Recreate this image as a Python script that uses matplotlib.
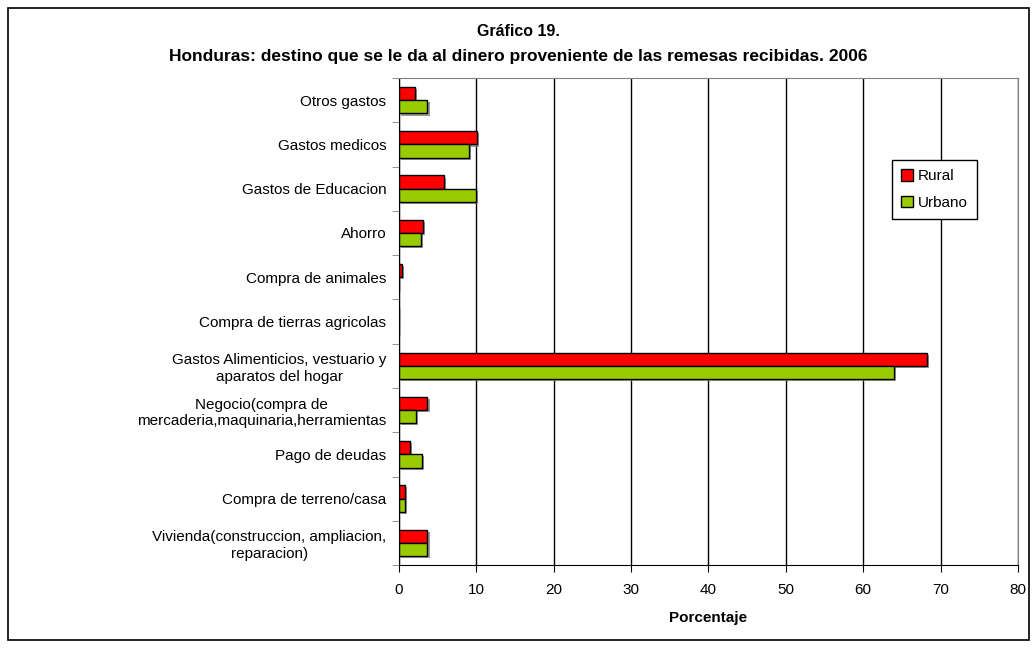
import numpy as np
import matplotlib.pyplot as plt
import matplotlib.patheffects as pe

plt.rcParams['font.family'] = ['Liberation Sans', 'DejaVu Sans']

categorias = [
    "Otros gastos",
    "Gastos medicos",
    "Gastos de Educacion",
    "Ahorro",
    "Compra de animales",
    "Compra de tierras agricolas",
    "Gastos Alimenticios, vestuario y\naparatos del hogar",
    "Negocio(compra de\nmercaderia,maquinaria,herramientas",
    "Pago de deudas",
    "Compra de terreno/casa",
    "Vivienda(construccion, ampliacion,\nreparacion)",
]
rural = [2.1, 10.1, 5.8, 3.1, 0.45, 0, 68.2, 3.7, 1.4, 0.8, 3.7]
urbano = [3.7, 9.1, 10.0, 2.8, 0, 0, 64.0, 2.2, 3.0, 0.8, 3.7]
x_ticks = [0, 10, 20, 30, 40, 50, 60, 70, 80]

fig = plt.figure(figsize=(10.36, 6.48), dpi=100)
ax = fig.add_axes([0.385, 0.128, 0.5976, 0.7516])

# outer frame of the chart
fig.patches.append(plt.Rectangle((0.008, 0.012), 0.985, 0.975, transform=fig.transFigure,
                                 fill=False, edgecolor='black', linewidth=1.2))

y = np.arange(len(categorias))
h = 0.3
sombra = [pe.SimplePatchShadow(offset=(1.5, -1.5), shadow_rgbFace='#808080', alpha=0.8), pe.Normal()]
b1 = ax.barh(y - h / 2, rural, height=h, color='#FF0000', edgecolor='black', linewidth=1, label='Rural')
b2 = ax.barh(y + h / 2, urbano, height=h, color='#99CC00', edgecolor='black', linewidth=1, label='Urbano')
for b in list(b1) + list(b2):
    if b.get_width() > 0:
        b.set_path_effects(sombra)

ax.set_xlim(0, 80)
ax.set_ylim(len(categorias) - 0.5, -0.5)
ax.set_xticks(x_ticks)
ax.set_xticklabels([str(v) for v in x_ticks], fontsize=11)
ax.tick_params(axis='x', direction='out', length=5, pad=8)
ax.set_yticks(y)
ax.set_yticklabels(categorias, fontsize=11, multialignment='center')
ax.set_yticks(np.arange(len(categorias) + 1) - 0.5, minor=True)
ax.tick_params(axis='y', which='major', length=0, pad=9)
ax.tick_params(axis='y', which='minor', length=5, color='#808080')

ax.grid(axis='x', color='black', linewidth=1)
ax.set_axisbelow(True)
for s in ['top', 'right']:
    ax.spines[s].set_color('#808080')
ax.spines['left'].set_color('black')
ax.spines['bottom'].set_color('black')

ax.set_xlabel("Porcentaje", fontsize=11, fontweight='bold', labelpad=10)

fig.text(0.5, 0.952, "Gráfico 19.", ha='center', va='center', fontsize=11.5, fontweight='bold')
fig.text(0.5, 0.913, "Honduras: destino que se le da al dinero proveniente de las remesas recibidas. 2006",
         ha='center', va='center', fontsize=12.5, fontweight='bold')

leg = ax.legend(loc='upper left', bbox_to_anchor=(892 / 1036, 1 - 160 / 648), bbox_transform=fig.transFigure,
                borderaxespad=0, fontsize=11, frameon=True, fancybox=False, edgecolor='black', framealpha=1,
                handlelength=0.8, handleheight=0.8, handletextpad=0.3, borderpad=0.6, labelspacing=0.8)
leg.get_frame().set_linewidth(1)
for hdl in leg.legend_handles:
    hdl.set_path_effects([])

fig.savefig("out.png", dpi=100)
